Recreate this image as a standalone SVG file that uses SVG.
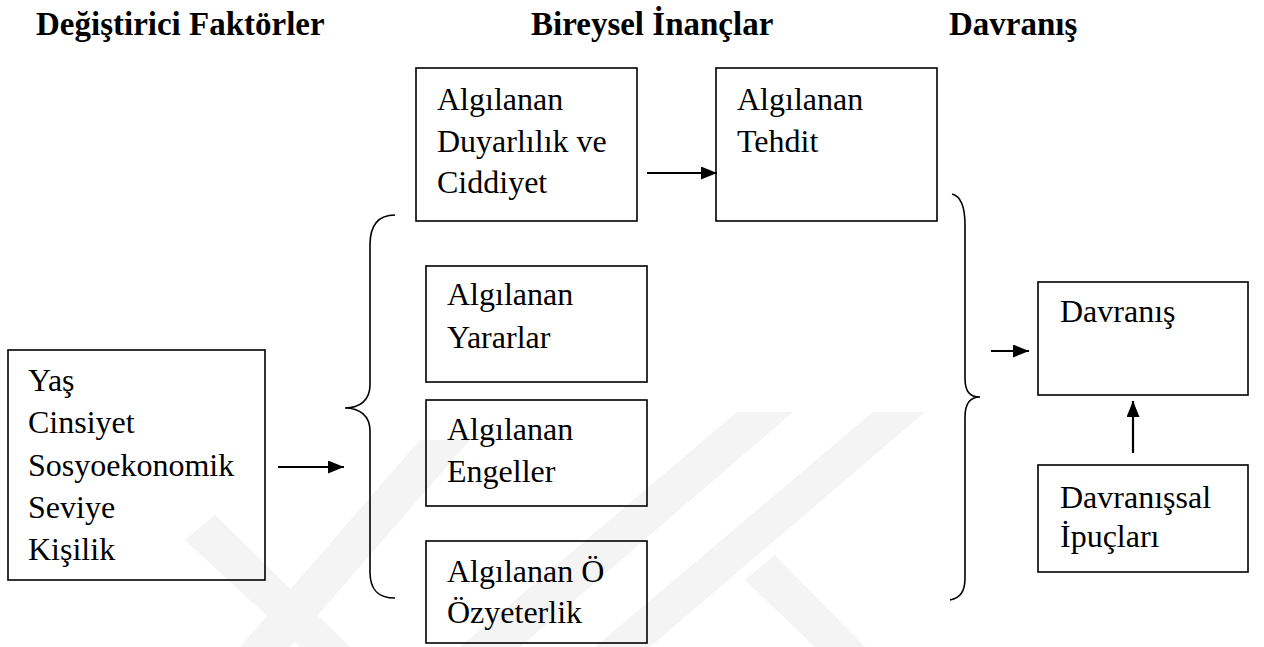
<svg xmlns="http://www.w3.org/2000/svg" width="1264" height="647" viewBox="0 0 1264 647">
<style>
.t{font-family:"Liberation Serif","Times New Roman",serif;font-size:32px;fill:#000}
.h{font-family:"Liberation Serif","Times New Roman",serif;font-size:33px;font-weight:bold;fill:#000}
.box{fill:none;stroke:#000;stroke-width:1.6}
.con{fill:none;stroke:#000;stroke-width:2.2}
.brace{fill:none;stroke:#000;stroke-width:1.6}
.wm{fill:#f4f4f4}
</style>
<defs>
<marker id="ah" markerUnits="userSpaceOnUse" markerWidth="17" markerHeight="14" refX="16" refY="6.5" orient="auto">
<path d="M0,0 L16,6.5 L0,13 z" fill="#000"/>
</marker>
</defs>
<rect width="1264" height="647" fill="#fff"/>
<g id="watermark">
<polygon class="wm" points="185,540 215,515 350,647 300,647"/>
<polygon class="wm" points="240,647 290,647 470,440 420,440"/>
<polygon class="wm" points="460,647 520,647 793,412 737,412"/>
<polygon class="wm" points="873,412 925,412 650,647 595,647"/>
<polygon class="wm" points="745,580 775,555 865,647 815,647"/>
</g>
<g id="titles">
<text class="h" x="36" y="35">Değiştirici Faktörler</text>
<text class="h" x="531" y="35">Bireysel İnançlar</text>
<text class="h" x="949" y="35">Davranış</text>
</g>
<g id="modifying">
<rect class="box" x="8" y="350" width="257" height="230"/>
<text class="t" x="28" y="391">Yaş</text>
<text class="t" x="28" y="433">Cinsiyet</text>
<text class="t" x="28" y="476">Sosyoekonomik</text>
<text class="t" x="28" y="518">Seviye</text>
<text class="t" x="28" y="560">Kişilik</text>
</g>
<g id="susceptibility">
<rect class="box" x="416" y="68" width="221" height="153"/>
<text class="t" x="437" y="110">Algılanan</text>
<text class="t" x="437" y="152">Duyarlılık ve</text>
<text class="t" x="437" y="193">Ciddiyet</text>
</g>
<g id="threat">
<rect class="box" x="716" y="68" width="221" height="153"/>
<text class="t" x="737" y="110">Algılanan</text>
<text class="t" x="737" y="152">Tehdit</text>
</g>
<g id="benefits">
<rect class="box" x="426" y="266" width="221" height="116"/>
<text class="t" x="447" y="305">Algılanan</text>
<text class="t" x="447" y="348">Yararlar</text>
</g>
<g id="barriers">
<rect class="box" x="426" y="400" width="221" height="106"/>
<text class="t" x="447" y="440">Algılanan</text>
<text class="t" x="447" y="482">Engeller</text>
</g>
<g id="selfefficacy">
<rect class="box" x="426" y="541" width="221" height="102"/>
<text class="t" x="447" y="582">Algılanan Ö</text>
<text class="t" x="447" y="623">Özyeterlik</text>
</g>
<g id="behavior">
<rect class="box" x="1038" y="282" width="210" height="113"/>
<text class="t" x="1060" y="322">Davranış</text>
</g>
<g id="cues">
<rect class="box" x="1038" y="465" width="210" height="107"/>
<text class="t" x="1060" y="508">Davranışsal</text>
<text class="t" x="1060" y="547">İpuçları</text>
</g>
<g id="braces">
<path class="brace" d="M395,215 C378,215 370,225 370,245 L370,385 C370,400 360,408 345,408 C360,408 370,416 370,431 L370,572 C370,590 378,598 395,598"/>
<path class="brace" d="M952,194 C960,196 965,205 965,225 L965,378 C965,392 970,397 980,397 C970,397 965,403 965,417 L965,578 C965,592 960,598 950,600"/>
</g>
<g id="connectors">
<line class="con" x1="278" y1="467" x2="344" y2="467" marker-end="url(#ah)"/>
<line class="con" x1="647" y1="173" x2="717" y2="173" marker-end="url(#ah)"/>
<line class="con" x1="991" y1="351" x2="1029" y2="351" marker-end="url(#ah)"/>
<line class="con" x1="1133" y1="453" x2="1133" y2="401" marker-end="url(#ah)"/>
</g>
</svg>
